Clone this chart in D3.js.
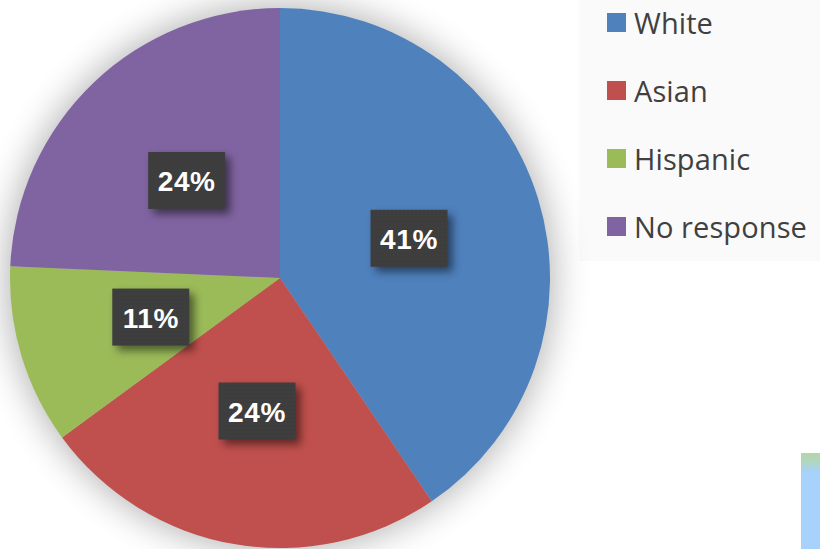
<!DOCTYPE html>
<html><head><meta charset="utf-8">
<script src="https://cdnjs.cloudflare.com/ajax/libs/d3/7.8.5/d3.min.js"></script>
<style>html,body{margin:0;padding:0;background:#fff;overflow:hidden}svg{display:block}</style>
</head><body><svg id="c" width="820" height="549"></svg>
<script>
const categories = ["White","Asian","Hispanic","No response"];
const shares = [40.5,24.45,10.75,24.3];
const colors = ["#4f81bd","#c0504d","#9bbb59","#8064a2"];

const svg = d3.select("#c");
const cx = 280, cy = 278, R = 270;
const defs = svg.append("defs");

const blur = defs.append("filter").attr("id","pieShadow").attr("x","-20%").attr("y","-20%").attr("width","140%").attr("height","140%");
blur.append("feGaussianBlur").attr("stdDeviation",18);

const lblShadow = defs.append("filter").attr("id","lblShadow").attr("x","-30%").attr("y","-30%").attr("width","170%").attr("height","170%");
lblShadow.append("feGaussianBlur").attr("stdDeviation",4);

const pat = defs.append("pattern").attr("id","dots").attr("width",4).attr("height",4).attr("patternUnits","userSpaceOnUse");
pat.append("rect").attr("width",4).attr("height",4).attr("fill","#3c3c3c");
pat.append("circle").attr("cx",1).attr("cy",1).attr("r",.7).attr("fill","#464646");
pat.append("circle").attr("cx",3).attr("cy",3).attr("r",.7).attr("fill","#424242");

// legend panel
const legendY = d3.scaleBand().domain(categories).range([-11.5,260.5]);
const panelFade = defs.append("linearGradient").attr("id","fade").attr("x1",0).attr("x2",1);
panelFade.append("stop").attr("offset",0).attr("stop-color","#fafafa").attr("stop-opacity",0);
panelFade.append("stop").attr("offset",1).attr("stop-color","#fafafa");
svg.append("rect").attr("x",576).attr("y",0).attr("width",6).attr("height",261).attr("fill","url(#fade)");
svg.append("rect").attr("x",580).attr("y",0).attr("width",240).attr("height",261).attr("fill","#fafafa");

// fragment of another picture, bottom right corner
const mapGrad = defs.append("linearGradient").attr("id","map").attr("x1",0).attr("x2",0).attr("y1",0).attr("y2",1);
mapGrad.append("stop").attr("offset",0).attr("stop-color","#b4d6a8");
mapGrad.append("stop").attr("offset",.1).attr("stop-color","#b0d6c4");
mapGrad.append("stop").attr("offset",.2).attr("stop-color","#a6d2fb");
mapGrad.append("stop").attr("offset",1).attr("stop-color","#a6d2fb");
svg.append("rect").attr("x",801).attr("y",453).attr("width",19).attr("height",96).attr("fill","url(#map)");

const pie = d3.pie().sort(null).value(d=>d)(shares);
const arc = d3.arc().innerRadius(0).outerRadius(R);

svg.append("circle").attr("cx",cx).attr("cy",cy).attr("r",R+3).attr("fill","#000").attr("opacity",.3).attr("filter","url(#pieShadow)");

const g = svg.append("g").attr("transform",`translate(${cx},${cy})`);
g.selectAll("path").data(pie).join("path").attr("d",arc).attr("fill",(d,i)=>colors[i]);

const W = 77, H = 57;
const fmt = v => Math.round(v)+"%";
const labels = g.selectAll("g.l").data(pie).join("g").attr("class","l")
  .attr("transform",d=>`translate(${arc.centroid(d)})`);
labels.append("rect").attr("x",-W/2+5).attr("y",-H/2+5).attr("width",W).attr("height",H).attr("fill","#000").attr("opacity",.5).attr("filter","url(#lblShadow)");
labels.append("rect").attr("x",-W/2).attr("y",-H/2).attr("width",W).attr("height",H).attr("fill","url(#dots)");
labels.append("text").attr("text-anchor","middle").attr("y",11).attr("fill","#fff")
  .style("font","bold 28px 'Liberation Sans',Arial,sans-serif").style("letter-spacing","0.6px").text(d=>fmt(d.data));

// legend
const leg = svg.selectAll("g.k").data(categories).join("g").attr("class","k")
  .attr("transform",d=>`translate(607,${legendY(d)+legendY.bandwidth()/2})`);
leg.append("rect").attr("width",19).attr("height",19).attr("y",-9.5).attr("fill",(d,i)=>colors[i]);
leg.append("text").attr("x",27).attr("y",11.5).attr("fill","#404040")
  .style("font","29px 'Open Sans',sans-serif").style("letter-spacing","0.1px").text(d=>d);
</script></body></html>
